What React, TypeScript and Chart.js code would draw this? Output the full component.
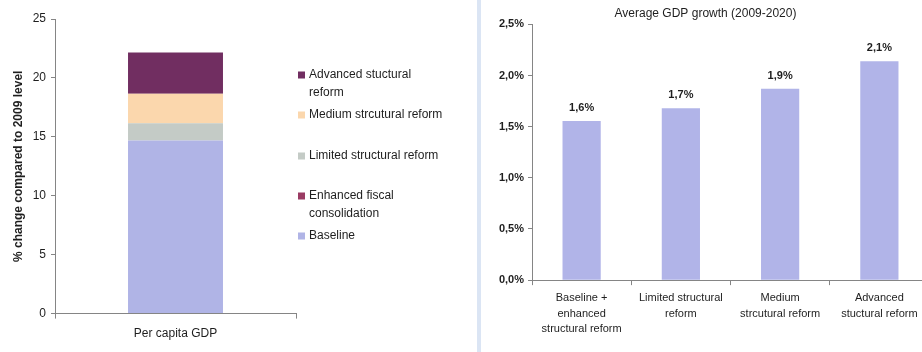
import React, { useEffect, useRef } from "react";
import { Chart, registerables } from "chart.js";

Chart.register(...registerables);

const FONT = '"Liberation Sans", Arial, Helvetica, sans-serif';
const TEXT = "#1e1e1e";
const AXIS = "#858585";

// Left panel: contributions to per capita GDP change (stacked)
const stackCategories = ["Per capita GDP"];
const baselineValues = [14.7];
const enhancedFiscalValues = [0];
const limitedReformValues = [1.45];
const mediumReformValues = [2.5];
const advancedReformValues = [3.5];
const stackLabels = [
  "Baseline",
  "Enhanced fiscal consolidation",
  "Limited structural reform",
  "Medium strcutural reform",
  "Advanced stuctural reform",
];
const stackColors = ["#b0b4e6", "#9a3b63", "#c4cbc6", "#fbd7ad", "#712e61"];
const stackTicks = [0, 5, 10, 15, 20, 25];

// Legend text as wrapped in the panel, listed top to bottom
const legendLines = [
  ["Advanced stuctural", "reform"],
  ["Medium strcutural reform"],
  ["Limited structural reform"],
  ["Enhanced fiscal", "consolidation"],
  ["Baseline"],
];
const legendColorIndex = [4, 3, 2, 1, 0];

// Right panel: average GDP growth 2009-2020
const growthTitle = "Average GDP growth (2009-2020)";
const growthCategories = [
  ["Baseline +", "enhanced", "structural reform"],
  ["Limited structural", "reform"],
  ["Medium", "strcutural reform"],
  ["Advanced", "stuctural reform"],
];
const growthValues = [1.555, 1.68, 1.87, 2.14];
const growthTicks = [0, 0.5, 1.0, 1.5, 2.0, 2.5];
const growthColor = "#b1b4e8";

const pct = (v: number) => v.toFixed(1).replace(".", ",") + "%";

// Legend drawn to the right of the stacked bar, with wrapped entries
const stackLegendPlugin = {
  id: "stackLegend",
  afterDraw(chart: any) {
    const ctx = chart.ctx;
    const area = chart.chartArea;
    const x0 = area.right + 2;
    // vertical placement of each entry's first line
    const firstLineY = [75, 115, 156, 196, 236];
    const lineGap = 17.5;
    ctx.save();
    ctx.font = `12px ${FONT}`;
    ctx.fillStyle = TEXT;
    ctx.textBaseline = "middle";
    legendLines.forEach((lines, i) => {
      const y = firstLineY[i];
      ctx.fillStyle = stackColors[legendColorIndex[i]];
      ctx.fillRect(x0, y - 3.5, 7, 7);
      ctx.fillStyle = TEXT;
      lines.forEach((t, j) => ctx.fillText(t, x0 + 11, y + j * lineGap));
    });
    ctx.restore();
  },
};

// Value labels above each growth bar
const valueLabelPlugin = {
  id: "valueLabels",
  afterDatasetsDraw(chart: any) {
    const ctx = chart.ctx;
    const meta = chart.getDatasetMeta(0);
    const data = chart.data.datasets[0].data as number[];
    ctx.save();
    ctx.font = `bold 11px ${FONT}`;
    ctx.fillStyle = TEXT;
    ctx.textAlign = "center";
    ctx.textBaseline = "middle";
    meta.data.forEach((bar: any, i: number) => {
      ctx.fillText(pct(data[i]), bar.x, bar.y - 13);
    });
    ctx.restore();
  },
};

function StackChart() {
  const ref = useRef<HTMLCanvasElement>(null);
  useEffect(() => {
    const series = [
      baselineValues,
      enhancedFiscalValues,
      limitedReformValues,
      mediumReformValues,
      advancedReformValues,
    ];
    const chart = new Chart(ref.current!, {
      type: "bar",
      data: {
        labels: stackCategories,
        datasets: series.map((values, i) => ({
          label: stackLabels[i],
          data: values,
          backgroundColor: stackColors[i],
          borderWidth: 0,
          barPercentage: 0.394,
          categoryPercentage: 1,
        })),
      },
      options: {
        responsive: false,
        animation: false,
        layout: { padding: { top: 19, right: 180, bottom: 3, left: 0 } },
        plugins: { legend: { display: false }, tooltip: { enabled: false } },
        scales: {
          x: {
            stacked: true,
            grid: { drawOnChartArea: false, tickLength: 5, color: AXIS },
            border: { color: AXIS, width: 1 },
            ticks: { font: { family: FONT, size: 12 }, color: TEXT, padding: 8 },
          },
          y: {
            stacked: true,
            min: 0,
            max: 25,
            afterBuildTicks: (s: any) => {
              s.ticks = stackTicks.map((v) => ({ value: v }));
            },
            afterFit: (s: any) => {
              s.width = 55;
            },
            grid: { drawOnChartArea: false, tickLength: 4, color: AXIS },
            border: { color: AXIS, width: 1 },
            ticks: { font: { family: FONT, size: 12 }, color: TEXT, padding: 5 },
            title: {
              display: true,
              text: "% change compared to 2009 level",
              font: { family: FONT, size: 12, weight: "bold" },
              color: TEXT,
              padding: { top: 11, bottom: 4 },
            },
          },
        },
      },
      plugins: [stackLegendPlugin],
    });
    return () => chart.destroy();
  }, []);
  return <canvas ref={ref} width={476} height={352} style={{ position: "absolute", left: 0, top: 0 }} />;
}

function GrowthChart() {
  const ref = useRef<HTMLCanvasElement>(null);
  useEffect(() => {
    const chart = new Chart(ref.current!, {
      type: "bar",
      data: {
        labels: growthCategories,
        datasets: [
          {
            label: growthTitle,
            data: growthValues,
            backgroundColor: growthColor,
            borderWidth: 0,
            barPercentage: 0.385,
            categoryPercentage: 1,
          },
        ],
      },
      options: {
        responsive: false,
        animation: false,
        layout: { padding: { top: 0, right: 9, bottom: 10, left: 0 } },
        plugins: {
          legend: { display: false },
          tooltip: { enabled: false },
          title: {
            display: true,
            text: growthTitle,
            font: { family: FONT, size: 12, weight: "normal" },
            color: TEXT,
            padding: { top: 6, bottom: 4 },
          },
        },
        scales: {
          x: {
            grid: { drawOnChartArea: false, tickLength: 5, color: AXIS, offset: true },
            border: { color: AXIS, width: 1 },
            ticks: {
              font: { family: FONT, size: 11, lineHeight: 1.42 },
              color: TEXT,
              padding: 5,
              maxRotation: 0,
              autoSkip: false,
            },
          },
          y: {
            min: 0,
            max: 2.5,
            afterBuildTicks: (s: any) => {
              s.ticks = growthTicks.map((v) => ({ value: v }));
            },
            afterFit: (s: any) => {
              s.width = 50;
            },
            grid: { drawOnChartArea: false, tickLength: 4, color: AXIS },
            border: { color: AXIS, width: 1 },
            ticks: {
              font: { family: FONT, size: 11, weight: "bold" },
              color: TEXT,
              padding: 4,
              callback: (v: any) => pct(Number(v)),
            },
          },
        },
      },
      plugins: [valueLabelPlugin],
    });
    return () => chart.destroy();
  }, []);
  return <canvas ref={ref} width={456} height={352} style={{ position: "absolute", left: 482, top: 0 }} />;
}

export default function App() {
  return (
    <div
      style={{
        position: "absolute",
        left: 0,
        top: 0,
        width: 922,
        height: 352,
        overflow: "hidden",
        background: "#ffffff",
      }}
    >
      <StackChart />
      <div
        style={{
          position: "absolute",
          left: 477,
          top: 0,
          width: 4,
          height: 352,
          background: "#dbe5f4",
        }}
      />
      <GrowthChart />
    </div>
  );
}
